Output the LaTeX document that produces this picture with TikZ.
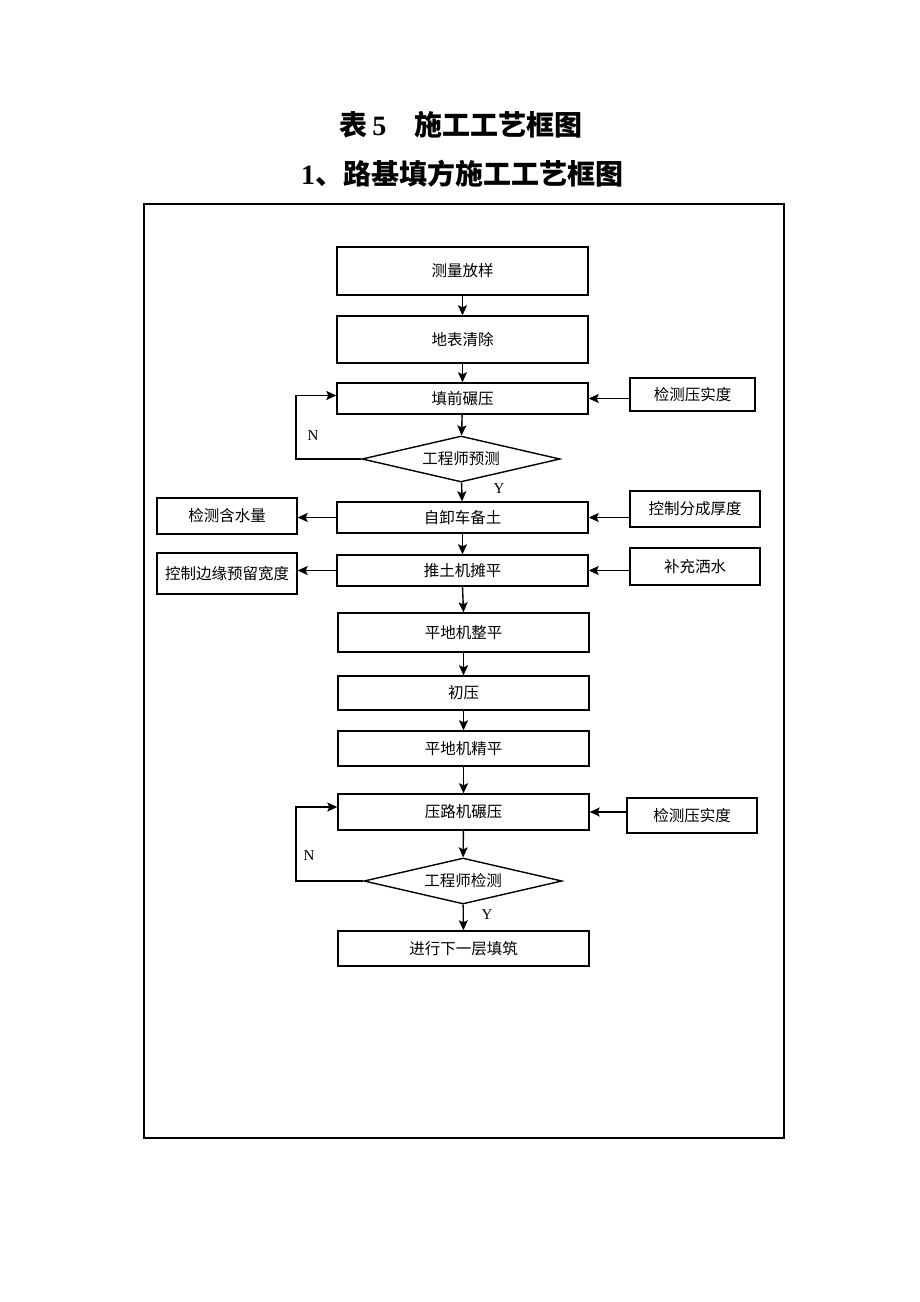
\documentclass[tikz,border=0pt]{standalone}
\usepackage{fontspec}
\setmainfont{Liberation Serif}
\newfontfamily\cjk{Noto Sans CJK SC}
\usetikzlibrary{arrows.meta, shapes.geometric}

\begin{document}
\begin{tikzpicture}[
                x = 1pt, y = -1pt,
                > = {Stealth[length = 10pt, width = 9pt, inset = 2pt]}, % arrow head style
                line width = 1.4pt % line style
            ]

            \tikzstyle{stepbox}=[draw = black, rectangle, inner sep = 1pt,
            minimum width = 251pt, font = \cjk\fontsize{15.5}{18}\selectfont]
            \tikzstyle{sidebox}=[draw = black, rectangle, inner sep = 1pt,
            minimum width = 130pt, font = \cjk\fontsize{15.5}{18}\selectfont]
            \tikzstyle{checkbox}=[draw = black, diamond, aspect = 4.3, inner sep = 0pt,
            minimum width = 198pt, minimum height = 46pt,
            font = \cjk\fontsize{15.5}{18}\selectfont]
            \tikzstyle{yn}=[font = \fontsize{15}{18}\selectfont]

            \useasboundingbox (0,0) rectangle (920,1302);

            % titles
            \node (t1) at (461,125) {\fontsize{28}{32}\selectfont\bfseries
            {\cjk 表}\,5\quad{\cjk 施工工艺框图}};
            \node (t2) at (462,174) {\fontsize{28}{32}\selectfont\bfseries
            1{\cjk 、路基填方施工工艺框图}};

            % frame
            \draw[line width = 1.8pt] (144,204) rectangle (784,1138);

            % main chain
            \node (1) [stepbox, minimum height = 48pt] at (462.5,271) {测量放样};
            \node (2) [stepbox, minimum height = 47pt] at (462.5,339.5) {地表清除};
            \node (3) [stepbox, minimum height = 31pt] at (462.5,398.5) {填前碾压};
            \node (4) [checkbox] at (461,459) {工程师预测};
            \node (5) [stepbox, minimum height = 31pt] at (462.5,517.5) {自卸车备土};
            \node (6) [stepbox, minimum height = 31pt] at (462.5,570.5) {推土机摊平};
            \node (7) [stepbox, minimum height = 39pt] at (463.5,632.5) {平地机整平};
            \node (8) [stepbox, minimum height = 34pt] at (463.5,693) {初压};
            \node (9) [stepbox, minimum height = 35pt] at (463.5,748.5) {平地机精平};
            \node (10) [stepbox, minimum height = 36pt] at (463.5,812) {压路机碾压};
            \node (11) [checkbox] at (463,881) {工程师检测};
            \node (12) [stepbox, minimum height = 35pt] at (463.5,948.5) {进行下一层填筑};

            % side boxes
            \node (r1) [sidebox, minimum width = 125pt, minimum height = 33pt]
            at (692.5,394.5) {检测压实度};
            \node (r2) [sidebox, minimum height = 36pt] at (695,509) {控制分成厚度};
            \node (r3) [sidebox, minimum height = 37pt] at (695,566.5) {补充洒水};
            \node (r4) [sidebox, minimum height = 35pt] at (692,815.5) {检测压实度};
            \node (l1) [sidebox, minimum width = 140pt, minimum height = 36pt]
            at (227,516) {检测含水量};
            \node (l2) [sidebox, minimum width = 140pt, minimum height = 41pt]
            at (227,573.5) {控制边缘预留宽度};

            % loop corners
            \coordinate (n1) at (296,459);
            \coordinate (n2) at (296,881);

            \path[->] (1) edge (2); \path[->] (2) edge (3); \path[->] (3) edge (4);
            \path[->] (4) edge (5); \path[->] (5) edge (6);
            \draw[->] (6.south) -- (7.north);
            \path[->] (7) edge (8); \path[->] (8) edge (9); \path[->] (9) edge (10);
            \path[->] (10) edge (11); \path[->] (11) edge (12);

            \draw[->] (4.west) -- (n1) |- ([yshift=3pt]3.west);
            \draw[->] (11.west) -- (n2) |- ([yshift=5pt]10.west);

            \draw[->] (r1.west |- 3.east) -- (3.east);
            \draw[->] (r2.west |- 5.east) -- (5.east);
            \draw[->] (r3.west |- 6.east) -- (6.east);
            \draw[->] (r4.west |- 10.east) -- (10.east);
            \draw[->] (5.west) -- (l1.east |- 5.west);
            \draw[->] (6.west) -- (l2.east |- 6.west);

            \node (N1) [yn] at (313,436) {N};
            \node (Y1) [yn] at (499,489) {Y};
            \node (N2) [yn] at (309,856) {N};
            \node (Y2) [yn] at (487,915) {Y};

        \end{tikzpicture}
\end{document}
